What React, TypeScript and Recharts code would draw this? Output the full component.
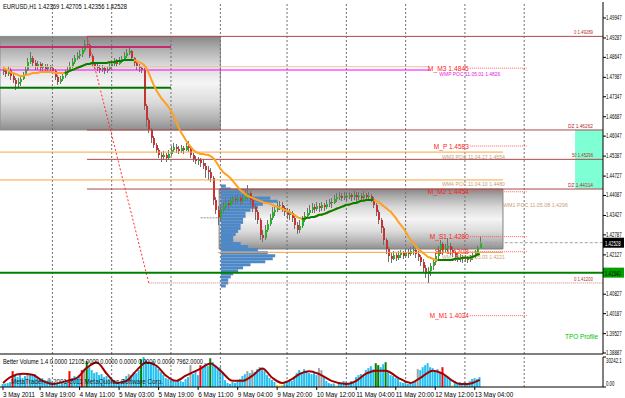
import {
  ComposedChart,
  Bar,
  Line,
  XAxis,
  YAxis,
  ReferenceLine,
  ReferenceArea,
  Cell,
} from "recharts";

const FONT = "'Liberation Sans', Arial, sans-serif";

// x = bar index (0 = 3 May 2011 04:00), empty space on the right like MT4 shift
const XMIN = -1.21;
const XMAX = 242.9;
const YMIN = 1.38854;
const YMAX = 1.50475;

// EURUSD H1 candles (open of a bar = close of the previous one)
const FIRST_OPEN = 1.4816;
const CLOSE = [
  1.4823, 1.481, 1.4823, 1.4803, 1.479, 1.4777, 1.4783, 1.4793, 1.4807, 1.4823,
  1.4849, 1.4863, 1.4846, 1.4836, 1.4843, 1.483, 1.4836, 1.4826, 1.4833, 1.483,
  1.482, 1.48, 1.4783, 1.4793, 1.4803, 1.4813, 1.4823, 1.4836, 1.4849, 1.4863,
  1.4869, 1.4876, 1.4889, 1.4909, 1.4906, 1.4869, 1.4843, 1.4836, 1.483, 1.4823,
  1.483, 1.482, 1.4826, 1.4836, 1.4843, 1.4849, 1.4843, 1.4853, 1.4859, 1.4869,
  1.4879, 1.4886, 1.4863, 1.4846, 1.4836, 1.483, 1.4823, 1.4704, 1.4658, 1.4625,
  1.4599, 1.4576, 1.4559, 1.4543, 1.4536, 1.4543, 1.4533, 1.4546, 1.4559, 1.4569,
  1.4563, 1.4556, 1.4566, 1.4559, 1.4572, 1.4566, 1.4543, 1.453, 1.4523, 1.4526,
  1.4516, 1.4506, 1.4493, 1.4487, 1.4467, 1.4394, 1.4361, 1.4335, 1.4361, 1.4374,
  1.4384, 1.4378, 1.4391, 1.4397, 1.4394, 1.4401, 1.4391, 1.4397, 1.4407, 1.4417,
  1.4394, 1.4371, 1.4355, 1.4328, 1.4279, 1.4269, 1.4295, 1.4315, 1.4335, 1.4355,
  1.4361, 1.4374, 1.4378, 1.4368, 1.4355, 1.4345, 1.4351, 1.4335, 1.4312, 1.4295,
  1.4308, 1.4328, 1.4341, 1.4351, 1.4361, 1.4371, 1.4365, 1.4374, 1.4368, 1.4378,
  1.4371, 1.4381, 1.4388, 1.4384, 1.4397, 1.4404, 1.4407, 1.4401, 1.4407, 1.4404,
  1.4411, 1.4404, 1.4411, 1.4404, 1.4407, 1.4401, 1.4411, 1.4404, 1.4407, 1.4397,
  1.4378, 1.4355, 1.4328, 1.4302, 1.4262, 1.4232, 1.4209, 1.42, 1.4213, 1.4203,
  1.4213, 1.4219, 1.4209, 1.4223, 1.4216, 1.4226, 1.4229, 1.4216, 1.4206, 1.419,
  1.417, 1.415, 1.416, 1.4177, 1.419, 1.4209, 1.4229, 1.4249, 1.4229, 1.4236,
  1.4242, 1.4229, 1.4219, 1.4206, 1.42, 1.4206, 1.42, 1.4203, 1.4196, 1.4203,
  1.4209, 1.4219, 1.42369, 1.42528,
];
const HIGH = [
  1.4836, 1.483, 1.4836, 1.483, 1.481, 1.4797, 1.4797, 1.4807, 1.4816, 1.4836,
  1.4863, 1.4882, 1.4869, 1.4856, 1.4853, 1.4849, 1.4846, 1.4843, 1.4843, 1.484,
  1.4836, 1.4826, 1.4807, 1.4803, 1.4813, 1.4823, 1.4836, 1.4849, 1.4863, 1.4873,
  1.4882, 1.4889, 1.4902, 1.4922, 1.4932, 1.4912, 1.4876, 1.4849, 1.4846, 1.484,
  1.484, 1.4836, 1.4836, 1.4849, 1.4856, 1.4863, 1.4859, 1.4866, 1.4869, 1.4882,
  1.4892, 1.4899, 1.4889, 1.4866, 1.4853, 1.4843, 1.4836, 1.483, 1.4711, 1.4665,
  1.4632, 1.4605, 1.4582, 1.4566, 1.4553, 1.4556, 1.4549, 1.4559, 1.4572, 1.4582,
  1.4579, 1.4572, 1.4576, 1.4572, 1.4582, 1.4589, 1.4572, 1.4549, 1.4539, 1.4536,
  1.4533, 1.4526, 1.4516, 1.4506, 1.45, 1.4474, 1.4404, 1.4374, 1.4378, 1.4388,
  1.4397, 1.4394, 1.4404, 1.4407, 1.4407, 1.4411, 1.4407, 1.4411, 1.4427, 1.4444,
  1.4424, 1.4401, 1.4381, 1.4361, 1.4335, 1.4295, 1.4312, 1.4328, 1.4348, 1.4371,
  1.4378, 1.4388, 1.4391, 1.4388, 1.4374, 1.4368, 1.4365, 1.4358, 1.4341, 1.4322,
  1.4328, 1.4341, 1.4355, 1.4368, 1.4378, 1.4384, 1.4381, 1.4388, 1.4384, 1.4388,
  1.4384, 1.4394, 1.4397, 1.4401, 1.4411, 1.4417, 1.4421, 1.4417, 1.4421, 1.4417,
  1.4421, 1.4417, 1.4424, 1.4421, 1.4421, 1.4417, 1.4424, 1.4417, 1.4421, 1.4414,
  1.4404, 1.4384, 1.4361, 1.4335, 1.4308, 1.4269, 1.4239, 1.4219, 1.4226, 1.4219,
  1.4226, 1.4229, 1.4226, 1.4232, 1.4232, 1.4239, 1.4242, 1.4232, 1.4226, 1.4213,
  1.42, 1.418, 1.4173, 1.4187, 1.4203, 1.4219, 1.4242, 1.4262, 1.4256, 1.4249,
  1.4269, 1.4252, 1.4239, 1.4226, 1.4216, 1.4216, 1.4213, 1.4213, 1.4209, 1.4213,
  1.4219, 1.4229, 1.4242, 1.42705,
];
const LOW = [
  1.4807, 1.48, 1.4803, 1.479, 1.478, 1.4757, 1.4764, 1.477, 1.479, 1.4803,
  1.482, 1.4843, 1.4836, 1.4823, 1.4823, 1.4816, 1.4816, 1.4813, 1.482, 1.482,
  1.481, 1.479, 1.4774, 1.4777, 1.4787, 1.4797, 1.4807, 1.482, 1.483, 1.4843,
  1.4856, 1.4859, 1.4866, 1.4882, 1.4896, 1.4863, 1.4833, 1.4826, 1.482, 1.4813,
  1.4816, 1.481, 1.4813, 1.4823, 1.483, 1.4836, 1.4833, 1.484, 1.4846, 1.4856,
  1.4863, 1.4873, 1.4853, 1.4836, 1.4823, 1.4816, 1.4813, 1.4691, 1.4635, 1.4615,
  1.4582, 1.4566, 1.4549, 1.4533, 1.452, 1.4526, 1.452, 1.4526, 1.4539, 1.4553,
  1.4549, 1.4546, 1.4549, 1.4546, 1.4556, 1.4553, 1.4533, 1.452, 1.4513, 1.451,
  1.4503, 1.4497, 1.4467, 1.446, 1.4454, 1.4378, 1.4348, 1.4312, 1.4322, 1.4351,
  1.4365, 1.4361, 1.4374, 1.4381, 1.4381, 1.4384, 1.4378, 1.4381, 1.4391, 1.4394,
  1.4378, 1.4355, 1.4328, 1.4315, 1.4262, 1.4256, 1.4262, 1.4289, 1.4308, 1.4328,
  1.4341, 1.4355, 1.4361, 1.4355, 1.4341, 1.4332, 1.4328, 1.4322, 1.4298, 1.4282,
  1.4285, 1.4302, 1.4322, 1.4335, 1.4345, 1.4351, 1.4351, 1.4358, 1.4355, 1.4358,
  1.4358, 1.4365, 1.4371, 1.4368, 1.4381, 1.4388, 1.4394, 1.4391, 1.4394, 1.4391,
  1.4397, 1.4391, 1.4394, 1.4388, 1.4394, 1.4388, 1.4394, 1.4391, 1.4394, 1.4388,
  1.4368, 1.4341, 1.4315, 1.4285, 1.4246, 1.4216, 1.419, 1.4187, 1.4196, 1.4193,
  1.4196, 1.4203, 1.42, 1.4203, 1.4203, 1.4209, 1.4213, 1.4203, 1.4193, 1.4177,
  1.4157, 1.4137, 1.41203, 1.4143, 1.4163, 1.418, 1.42, 1.4216, 1.4213, 1.4219,
  1.4223, 1.4213, 1.4206, 1.4193, 1.419, 1.419, 1.4187, 1.419, 1.4187, 1.419,
  1.4196, 1.4203, 1.4213, 1.42356,
];

// moving average; drawn green where the indicator marks it rising
const MA = [
  1.483, 1.4826, 1.4823, 1.4816, 1.4813, 1.481, 1.4807, 1.4803, 1.4803, 1.4807,
  1.4807, 1.481, 1.4813, 1.4813, 1.4813, 1.4816, 1.4816, 1.4816, 1.4816, 1.4816,
  1.4816, 1.4813, 1.4813, 1.4813, 1.4813, 1.4813, 1.4816, 1.482, 1.4823, 1.4826,
  1.483, 1.4833, 1.4836, 1.484, 1.4843, 1.4843, 1.4846, 1.4846, 1.4846, 1.4846,
  1.4846, 1.4846, 1.4846, 1.4849, 1.4849, 1.4849, 1.4853, 1.4853, 1.4853, 1.4856,
  1.4856, 1.4856, 1.4856, 1.4856, 1.4853, 1.4849, 1.4846, 1.484, 1.483, 1.4813,
  1.4793, 1.4774, 1.4757, 1.4744, 1.4731, 1.4721, 1.4711, 1.4701, 1.4688, 1.4671,
  1.4655, 1.4635, 1.4618, 1.4605, 1.4592, 1.4579, 1.4569, 1.4559, 1.4553, 1.4549,
  1.4546, 1.4546, 1.4543, 1.4543, 1.4539, 1.4533, 1.4523, 1.451, 1.4497, 1.4487,
  1.448, 1.4474, 1.4467, 1.4457, 1.4447, 1.4437, 1.4427, 1.4421, 1.4414, 1.4407,
  1.4404, 1.4401, 1.4397, 1.4394, 1.4391, 1.4388, 1.4384, 1.4384, 1.4381, 1.4378,
  1.4374, 1.4371, 1.4368, 1.4365, 1.4361, 1.4358, 1.4355, 1.4348, 1.4345, 1.4338,
  1.4335, 1.4332, 1.4332, 1.4335, 1.4335, 1.4338, 1.4338, 1.4341, 1.4345, 1.4345,
  1.4348, 1.4351, 1.4355, 1.4358, 1.4361, 1.4365, 1.4368, 1.4371, 1.4374, 1.4378,
  1.4378, 1.4381, 1.4384, 1.4384, 1.4388, 1.4391, 1.4391, 1.4394, 1.4394, 1.4394,
  1.4394, 1.4391, 1.4388, 1.4381, 1.4374, 1.4368, 1.4361, 1.4355, 1.4345, 1.4335,
  1.4322, 1.4312, 1.4302, 1.4289, 1.4275, 1.4262, 1.4252, 1.4242, 1.4232, 1.4226,
  1.4219, 1.4213, 1.4206, 1.4203, 1.42, 1.4196, 1.4196, 1.4196, 1.4196, 1.4196,
  1.4196, 1.4196, 1.4196, 1.42, 1.42, 1.42, 1.4203, 1.4203, 1.4203, 1.4203,
  1.4206, 1.4209, 1.4213, 1.4216,
];
const MA_UP_RANGES = [
  [25, 53],
  [121, 150],
  [176, 193],
];

// Better Volume histogram
const VOL_MAX = 30242.1;
const VOLUME = [
  3000, 3500, 4000, 5000, 16000, 11000, 10000, 12000, 9000, 11000,
  14000, 13000, 12000, 13000, 9000, 8000, 9000, 7000, 6000, 7000,
  5000, 3000, 4000, 2500, 3000, 4000, 5000, 16000, 9000, 11000,
  10000, 12000, 17000, 18000, 26000, 20000, 17000, 14000, 15000, 12000,
  13000, 10000, 11000, 8000, 6000, 7000, 5000, 4000, 6000, 8000,
  11000, 13000, 12000, 15000, 14000, 17000, 28000, 30242, 27000, 25000,
  23000, 26000, 21000, 18000, 15000, 12000, 9000, 8000, 7000, 6000,
  5000, 7000, 6000, 5000, 8000, 10000, 22000, 13000, 16000, 12000,
  22000, 20000, 24000, 21000, 29000, 25000, 22000, 18000, 20000, 15000,
  7000, 4000, 3000, 5000, 4000, 6000, 8000, 11000, 13000, 16000,
  14000, 17000, 15000, 18000, 20000, 19000, 16000, 12000, 9000, 7000,
  5000, 2000, 1500, 2000, 5000, 6000, 7000, 6000, 10000, 14000,
  17000, 15000, 18000, 16000, 14000, 13000, 15000, 12000, 19000, 17000,
  10000, 6000, 4000, 3000, 3500, 1500, 5000, 4000, 6000, 5000,
  4000, 6000, 5000, 10000, 12000, 13000, 11000, 17000, 19000, 21000,
  18000, 24000, 22000, 20000, 23000, 25000, 16000, 12000, 11000, 9000,
  8000, 5000, 4000, 6000, 3000, 5000, 4000, 5000, 18000, 17000,
  20000, 22000, 24000, 20000, 19000, 16000, 18000, 14000, 20000, 12000,
  10000, 8000, 2000, 6000, 4000, 5000, 3000, 5000, 4000, 6000,
  8000, 9000, 8000, 10000,
];
const VOL_RED = [4, 27, 32, 80, 178];
const VOL_GREEN = [34, 56, 84, 151, 152, 155];
const VOL_GRAY = [10, 33, 51, 76, 99, 101, 128, 129, 168];
const VOL_YELLOW = [111, 112, 113, 135, 182];
const VOL_MA_POINTS: [number, number][] = [
  [0, 4100], [3, 10000], [8, 13400], [12, 12400], [16, 6200], [20, 3100],
  [26, 6200], [30, 9300], [34, 19600], [38, 24800], [42, 13400], [46, 4100],
  [50, 6200], [54, 16500], [58, 24800], [62, 21700], [66, 11400], [70, 6200],
  [74, 11400], [80, 18600], [84, 23800], [88, 16500], [93, 6200], [97, 6200],
  [101, 11400], [105, 18600], [109, 9300], [113, 4100], [117, 8000], [120, 13000],
  [124, 16000], [128, 13000], [133, 6200], [139, 3100], [143, 6200], [147, 13400],
  [151, 16500], [155, 16500], [160, 9300], [165, 4100], [169, 9300], [174, 16500],
  [178, 13400], [182, 6200], [185, 3100], [188, 3100], [193, 7200],
];

// TPO profile (price level, count of bars)
const PROFILE_PRICE = [
  1.444, 1.443, 1.442, 1.441, 1.44, 1.439, 1.438, 1.437, 1.436, 1.435, 1.434,
  1.433, 1.432, 1.431, 1.43, 1.429, 1.428, 1.427, 1.426, 1.425, 1.424, 1.423,
  1.422, 1.421, 1.42, 1.419, 1.418, 1.417, 1.416, 1.415, 1.414, 1.413, 1.412, 1.411,
];
const PROFILE_COUNT = [
  2, 4, 8, 12, 20, 23, 17, 15, 12, 10, 10, 9, 9, 8, 8, 7, 6, 5, 5, 8, 11, 15,
  19, 22, 21, 18, 12, 9, 7, 5, 4, 3, 3, 2,
];
const PROFILE_START = 88.2;

const PRICE_TICKS = [
  1.49947, 1.49287, 1.48647, 1.47987, 1.47347, 1.46687, 1.46047, 1.45387,
  1.44727, 1.44087, 1.43427, 1.42787, 1.42127, 1.40827, 1.40187, 1.39527, 1.38887,
];
const TIME_TICKS = [0, 15, 31, 47, 63, 79, 95, 111, 127, 143, 159, 175, 191];
const TIME_LABELS = [
  "3 May 2011", "3 May 19:00", "4 May 11:00", "5 May 03:00", "5 May 19:00",
  "6 May 11:00", "9 May 04:00", "9 May 20:00", "10 May 12:00", "11 May 04:00",
  "11 May 20:00", "12 May 12:00", "13 May 04:00",
];
const GRID_BARS = [20, 44, 68, 88, 115, 139, 163, 187, 211];

// fibo levels
const FIB_FROM = 34;
const FIB_PRICE = [1.4934, 1.4625, 1.4528, 1.443];
const FIB_TEXT = ["0  1.49289", "DZ  1.46262", "50  1.45296", "DZ  1.44314"];
const FIB_LEN = [19, 25, 21, 25];
const FIB2_FROM = 59;
const FIB2_PRICE = 1.412;

// M_ pivot levels
const M_TEXT = ["M_M3 1.4845", "M_P 1.4583", "M_M2 1.4454", "M_S1 1.4280", "S0 1.4208", "M_M1 1.4024"];
const M_PRICE = [1.4829, 1.4572, 1.4421, 1.4273, 1.4223, 1.4012];
const M_LEN = [41, 35, 41, 39, 34, 39];

// weekly POC levels
const WM_TEXT = ["WM3 POC 11.04.17 1.4554", "WM4 POC 11.04.10 1.4480", "WM2 POC 11.05.03 1.4221"];
const WM_PRICE = [1.4552, 1.446, 1.4221];
const WM_FROM = [XMIN, XMIN, 87];
const WM_TO = 202.4;

const BULL = "#22b422";
const BEAR = "#c83232";
const WICK = "#707070";

const inUp = (i: number) => MA_UP_RANGES.some(([a, b]) => i >= a && i <= b);

const bars = CLOSE.map((c, i) => ({
  i,
  o: i === 0 ? FIRST_OPEN : CLOSE[i - 1],
  h: HIGH[i],
  l: LOW[i],
  c,
  ma: MA[i],
  maUp: inUp(i) ? MA[i] : null,
}));

const volColor = (i: number) => {
  if (VOL_RED.includes(i)) return "#ff0000";
  if (VOL_GREEN.includes(i)) return "#008000";
  if (VOL_GRAY.includes(i)) return "#a0a0a0";
  if (VOL_YELLOW.includes(i)) return "#ffd700";
  return "#22bff0";
};
const volMa = new Map(VOL_MA_POINTS);
const volRows = VOLUME.map((v, i) => ({ i, v, vma: volMa.get(i) ?? null }));

const Candle = (p: any) => {
  const { x, y, width, height, payload } = p;
  if (payload == null || x == null || y == null) return null;
  const { o, c, h, l } = payload;
  const span = h - l || 1e-9;
  const py = (v: number) => y + ((h - v) / span) * height;
  const cx = Math.round(x + width / 2);
  const top = py(Math.max(o, c));
  const bot = py(Math.min(o, c));
  return (
    <g shapeRendering="crispEdges">
      <line x1={cx + 0.5} x2={cx + 0.5} y1={y} y2={y + height} stroke={WICK} />
      <rect x={cx - 0.5} y={top} width={2} height={Math.max(1, bot - top)} fill={c >= o ? BULL : BEAR} />
    </g>
  );
};

type TagOpts = {
  at?: "start" | "end";
  dx?: number;
  dy?: number;
  anchor?: "start" | "end";
  len?: number;
  size?: number;
};

const tag = (text: string, fill: string, o: TagOpts = {}) => (p: any) => {
  const vb = p.viewBox ?? { x: 0, y: 0, width: 0 };
  const bx = o.at === "end" ? vb.x + vb.width : vb.x;
  return (
    <text
      x={bx + (o.dx ?? 0)}
      y={vb.y + (o.dy ?? 0)}
      fill={fill}
      fontSize={o.size ?? 6}
      fontFamily={FONT}
      textAnchor={o.anchor ?? "start"}
      textLength={o.len}
      lengthAdjust="spacingAndGlyphs"
    >
      {text}
    </text>
  );
};

// narrow text on the right scale, squeezed horizontally so it stays inside the window
const ScaleText = ({ x, y, fill = "#000", children }: { x: number; y: number; fill?: string; children: string }) => (
  <text transform={`translate(${x} ${y}) scale(0.62 1)`} fontSize={7} fontFamily={FONT} fill={fill}>
    {children}
  </text>
);

// price box on the right scale (right edge of the segment = axis line)
const axisBox = (text: string, bg: string, fg: string) => (p: any) => {
  const vb = p.viewBox ?? { x: 0, y: 0, width: 0 };
  const x = vb.x + vb.width;
  return (
    <g>
      <rect x={x} y={vb.y - 5} width={21} height={10} fill={bg} />
      <ScaleText x={x + 2} y={vb.y + 3} fill={fg}>
        {text}
      </ScaleText>
    </g>
  );
};

const PriceTick = (p: any) => (
  <ScaleText x={606} y={p.y + 2}>
    {Number(p.payload.value).toFixed(5)}
  </ScaleText>
);

const VolTick = (p: any) => {
  const top = p.payload.value > 0;
  return (
    <ScaleText x={606} y={top ? p.y + 6 : p.y - 1}>
      {top ? "30242.1" : "0.00"}
    </ScaleText>
  );
};

const TimeTick = (p: any) => {
  const label = TIME_LABELS[TIME_TICKS.indexOf(p.payload.value)] ?? "";
  return (
    <text x={p.x} y={42} fontSize={7} fontFamily={FONT} fill="#000" textLength={label.length * 3.2} lengthAdjust="spacingAndGlyphs">
      {label}
    </text>
  );
};

const seg = (x1: number, x2: number, y: number) => [
  { x: x1, y },
  { x: x2, y },
];

export default function App() {
  return (
    <div style={{ position: "absolute", left: 0, top: 0, width: 625, height: 398, background: "#fff", overflow: "hidden" }}>
      <div style={{ position: "absolute", left: 0, top: 0 }}>
        <ComposedChart width={625} height={356} data={bars} margin={{ top: 2, right: 0, bottom: 0, left: 0 }}>
          <defs>
            <linearGradient id="band" x1="0" y1="0" x2="0" y2="1">
              <stop offset="0" stopColor="#868686" />
              <stop offset="0.12" stopColor="#ababab" />
              <stop offset="0.3" stopColor="#d8d8d8" />
              <stop offset="0.5" stopColor="#f6f4f4" />
              <stop offset="0.7" stopColor="#dcdcdc" />
              <stop offset="0.88" stopColor="#b2b2b2" />
              <stop offset="1" stopColor="#8e8e8e" />
            </linearGradient>
          </defs>
          <XAxis type="number" dataKey="i" domain={[XMIN, XMAX]} allowDataOverflow tick={false} tickLine={false} height={2} axisLine={{ stroke: "#000" }} />
          <YAxis
            orientation="right"
            type="number"
            domain={[YMIN, YMAX]}
            allowDataOverflow
            ticks={PRICE_TICKS}
            interval={0}
            tick={<PriceTick />}
            tickSize={3}
            width={22}
            axisLine={{ stroke: "#000" }}
            tickLine={{ stroke: "#000" }}
          />

          <ReferenceArea x1={XMIN} x2={88} y1={1.4625} y2={1.4934} fill="url(#band)" fillOpacity={1} stroke="#8c8c8c" ifOverflow="visible" />
          <ReferenceArea x1={87.5} x2={WM_TO} y1={1.4232} y2={1.443} fill="url(#band)" fillOpacity={1} stroke="#808080" ifOverflow="visible" />
          <ReferenceArea x1={231.6} x2={XMAX} y1={1.443} y2={1.4625} fill="#7fffd4" fillOpacity={1} ifOverflow="visible" />

          {GRID_BARS.map((g) => (
            <ReferenceLine key={`g${g}`} x={g} stroke="#707070" strokeDasharray="2 2" ifOverflow="visible" />
          ))}

          <ReferenceLine segment={seg(XMIN, 68, 1.4899)} stroke="#c8286e" strokeWidth={2} ifOverflow="visible" />
          <ReferenceLine segment={seg(XMIN, 68, 1.4764)} stroke="#007800" strokeWidth={2} ifOverflow="visible" />
          <ReferenceLine segment={seg(XMIN, 172.5, 1.4834)} stroke="#e8c4a4" ifOverflow="visible" />
          <ReferenceLine
            segment={seg(XMIN, 173, 1.4823)}
            stroke="#ff00ff"
            ifOverflow="visible"
            label={tag("WMP POC 11.05.01 1.4826", "#e020e0", { at: "end", dx: 9, dy: 5.5, len: 61 })}
          />
          {WM_PRICE.map((p, k) => (
            <ReferenceLine
              key={`wm${k}`}
              segment={seg(WM_FROM[k], WM_TO, p)}
              stroke="#f4a640"
              ifOverflow="visible"
              label={tag(WM_TEXT[k], "#c8a078", { at: "end", dx: 2, dy: 6.5, anchor: "end", len: 63 })}
            />
          ))}
          <ReferenceLine
            segment={seg(WM_TO, XMAX, 1.4391)}
            stroke="none"
            ifOverflow="visible"
            label={tag("WM1 POC 11.05.08 1.4296", "#c8a078", { dx: 0, dy: 6, len: 65 })}
          />

          {FIB_PRICE.map((p, k) => (
            <ReferenceLine
              key={`f${k}`}
              segment={seg(FIB_FROM, XMAX, p)}
              stroke="#b04848"
              ifOverflow="visible"
              label={tag(FIB_TEXT[k], "#b03030", { at: "end", dx: -10, dy: -2, anchor: "end", len: FIB_LEN[k] })}
            />
          ))}
          <ReferenceLine
            segment={seg(FIB2_FROM, XMAX, FIB2_PRICE)}
            stroke="#c88080"
            strokeDasharray="1 1"
            ifOverflow="visible"
            label={tag("0  1.41203", "#b03030", { at: "end", dx: -10, dy: -2, anchor: "end", len: 19 })}
          />
          <ReferenceLine
            segment={[
              { x: FIB_FROM, y: 1.4934 },
              { x: FIB2_FROM, y: FIB2_PRICE },
            ]}
            stroke="#ff3030"
            strokeDasharray="2 2"
            ifOverflow="visible"
          />
          <ReferenceLine segment={seg(80, 88, 1.4335)} stroke="#909090" strokeDasharray="2 1" ifOverflow="visible" />

          {M_PRICE.map((p, k) => (
            <ReferenceLine
              key={`m${k}`}
              segment={seg(189, 212, p)}
              stroke="#ff6060"
              strokeDasharray="1 1"
              ifOverflow="visible"
              label={tag(M_TEXT[k], "#ff2020", { dx: -1, dy: 2.5, anchor: "end", len: M_LEN[k], size: 6.5 })}
            />
          ))}

          {PROFILE_PRICE.map((p, k) => (
            <ReferenceArea
              key={`tpo${k}`}
              x1={PROFILE_START}
              x2={PROFILE_START + PROFILE_COUNT[k]}
              y1={p - 0.0005}
              y2={p + 0.0005}
              fill="#4f88c6"
              fillOpacity={1}
              stroke="none"
              ifOverflow="visible"
            />
          ))}

          <ReferenceLine segment={seg(XMIN, XMAX, 1.4154)} stroke="#008000" strokeWidth={2} ifOverflow="visible" label={axisBox("1.41540", "#00a000", "#000")} />
          <ReferenceLine segment={seg(193, XMAX, 1.42528)} stroke="#a0a0a0" strokeDasharray="3 2" ifOverflow="visible" label={axisBox("1.42528", "#000", "#fff")} />

          <Line dataKey="ma" stroke="#ffa020" strokeWidth={2} dot={false} isAnimationActive={false} />
          <Line dataKey="maUp" stroke="#008000" strokeWidth={2} dot={false} isAnimationActive={false} />
          <Bar dataKey={(d: any) => [d.l, d.h]} barSize={2} shape={Candle} isAnimationActive={false} />
        </ComposedChart>
      </div>

      <div style={{ position: "absolute", left: 0, top: 355 }}>
        <ComposedChart width={625} height={43} data={volRows} margin={{ top: 2, right: 0, bottom: 0, left: 0 }}>
          <XAxis
            type="number"
            dataKey="i"
            domain={[XMIN, XMAX]}
            allowDataOverflow
            ticks={TIME_TICKS}
            interval={0}
            tick={<TimeTick />}
            tickSize={3}
            height={11}
            axisLine={{ stroke: "#000" }}
            tickLine={{ stroke: "#000" }}
          />
          <YAxis
            orientation="right"
            type="number"
            domain={[0, VOL_MAX]}
            allowDataOverflow
            ticks={[0, VOL_MAX]}
            interval={0}
            tick={<VolTick />}
            tickSize={3}
            width={22}
            axisLine={{ stroke: "#000" }}
            tickLine={{ stroke: "#000" }}
          />
          {GRID_BARS.map((g) => (
            <ReferenceLine key={`vg${g}`} x={g} stroke="#707070" strokeDasharray="2 2" ifOverflow="visible" />
          ))}
          <Bar dataKey="v" barSize={2} isAnimationActive={false}>
            {volRows.map((r) => (
              <Cell key={r.i} fill={volColor(r.i)} />
            ))}
          </Bar>
          <Line dataKey="vma" type="monotone" connectNulls stroke="#a00000" strokeWidth={2} dot={false} isAnimationActive={false} />
        </ComposedChart>
      </div>

      <svg width={625} height={398} style={{ position: "absolute", left: 0, top: 0, pointerEvents: "none" }}>
        <text x={3} y={9} fontSize={7} fontFamily={FONT} fill="#000" textLength={124} lengthAdjust="spacingAndGlyphs">
          EURUSD,H1  1.42369 1.42705 1.42356 1.42528
        </text>
        <text x={565} y={339} fontSize={7} fontFamily={FONT} fill="#00c000" textLength={33} lengthAdjust="spacingAndGlyphs">
          TPO Profile
        </text>
        <text x={3} y={364} fontSize={7} fontFamily={FONT} fill="#000" textLength={200} lengthAdjust="spacingAndGlyphs">
          Better Volume 1.4 0.0000 12105.0000 0.0000 0.0000 0.0000 0.0000 7962.0000
        </text>
        <text x={11} y={384} fontSize={7} fontFamily={FONT} fill="#202020" textLength={152} lengthAdjust="spacingAndGlyphs">
          MetaTrader, © 2001-2011 MetaQuotes Software Corp.
        </text>
      </svg>
    </div>
  );
}
